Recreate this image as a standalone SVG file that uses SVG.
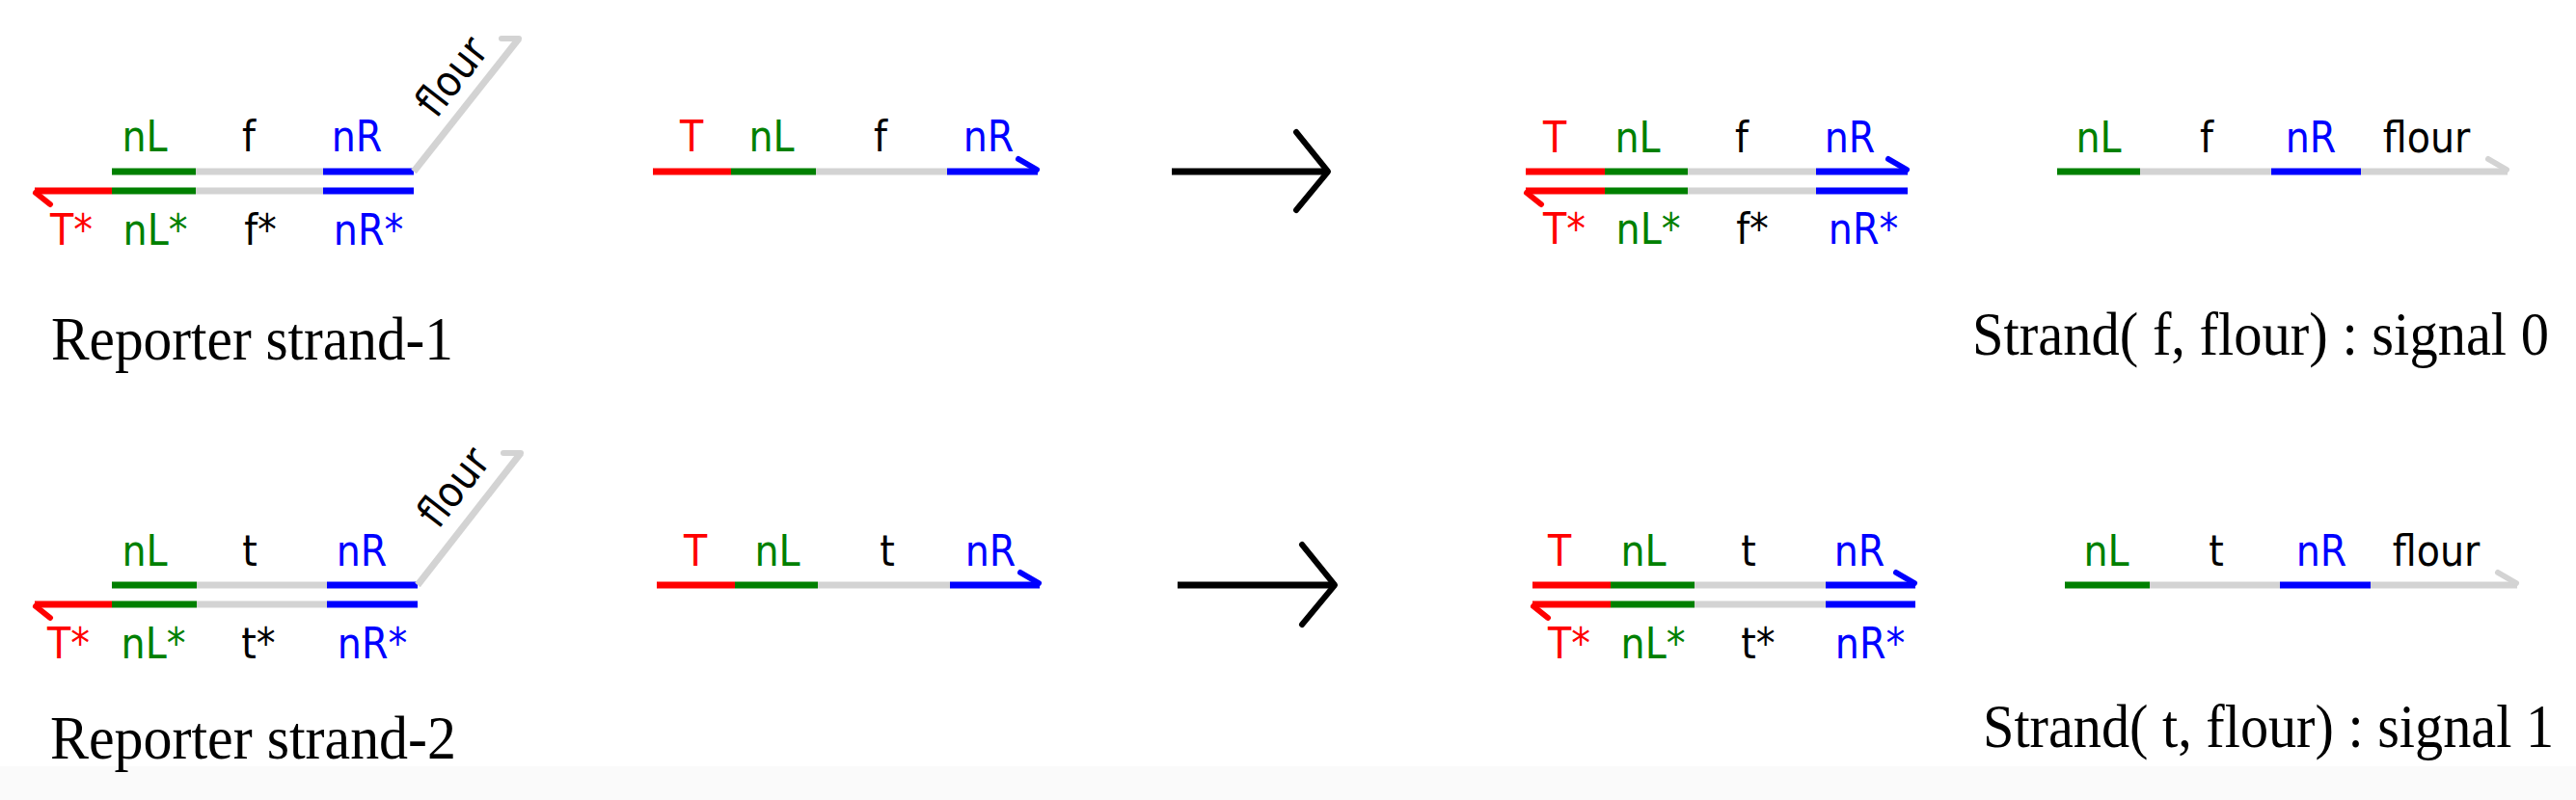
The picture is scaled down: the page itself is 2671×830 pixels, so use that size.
<svg xmlns="http://www.w3.org/2000/svg" width="2671" height="830" viewBox="0 0 2671 830">
<style>
.s{fill:none;stroke-width:7;stroke-linecap:butt}
.h{fill:none;stroke-width:6;stroke-linecap:round;stroke-linejoin:round}
.r{stroke:#ff0000}.g{stroke:#008000}.b{stroke:#0000ff}.y{stroke:#d3d3d3}.k{stroke:#000}
.l{font-family:"DejaVu Sans Condensed","DejaVu Sans",sans-serif;font-size:44px;text-anchor:middle}
.cap{font-family:"Liberation Serif",serif;font-size:64px}
.tr{fill:#ff0000}.tg{fill:#008000}.tb{fill:#0000ff}.tk{fill:#000}
</style>
<rect width="2671" height="830" fill="#fff"/>
<rect y="795" width="2671" height="35" fill="#fafafa"/>

<g id="reporter1">
<line class="s g" x1="116" y1="178" x2="203" y2="178"/><line class="s y" x1="203" y1="178" x2="335" y2="178"/><line class="s b" x1="335" y1="178" x2="429" y2="178"/>
<line class="s y" x1="429" y1="178" x2="538" y2="40"/><polyline class="h y" points="520,40 538,40"/>
<line class="s r" x1="36" y1="198" x2="116" y2="198"/><line class="s g" x1="116" y1="198" x2="203" y2="198"/><line class="s y" x1="203" y1="198" x2="335" y2="198"/><line class="s b" x1="335" y1="198" x2="429" y2="198"/>
<polyline class="h r" points="37,200 52,212"/>
<text class="l tg" x="150" y="157">nL</text><text class="l tk" x="258" y="157">f</text><text class="l tb" x="370" y="157">nR</text>
<text class="l tk" transform="translate(469,80) rotate(-52)" y="14">flour</text>
<text class="l tr" x="74" y="254">T*</text><text class="l tg" x="161" y="254">nL*</text><text class="l tk" x="270" y="254">f*</text><text class="l tb" x="382" y="254">nR*</text>
<text class="cap tk" x="53" y="373" textLength="417" lengthAdjust="spacingAndGlyphs">Reporter strand-1</text>
</g>

<g id="input1">
<line class="s r" x1="677" y1="178" x2="758" y2="178"/><line class="s g" x1="758" y1="178" x2="846" y2="178"/><line class="s y" x1="846" y1="178" x2="982" y2="178"/><line class="s b" x1="982" y1="178" x2="1076" y2="178"/>
<polyline class="h b" points="1075,176 1056,165"/>
<text class="l tr" x="717" y="157">T</text><text class="l tg" x="800" y="157">nL</text><text class="l tk" x="913" y="157">f</text><text class="l tb" x="1025" y="157">nR</text>
</g>

<g id="duplex1">
<line class="s r" x1="1582" y1="178" x2="1664" y2="178"/><line class="s g" x1="1664" y1="178" x2="1750" y2="178"/><line class="s y" x1="1750" y1="178" x2="1883" y2="178"/><line class="s b" x1="1883" y1="178" x2="1978" y2="178"/>
<polyline class="h b" points="1977,176 1958,165"/>
<line class="s r" x1="1582" y1="198" x2="1664" y2="198"/><line class="s g" x1="1664" y1="198" x2="1750" y2="198"/><line class="s y" x1="1750" y1="198" x2="1883" y2="198"/><line class="s b" x1="1883" y1="198" x2="1978" y2="198"/>
<polyline class="h r" points="1583,200 1598,212"/>
<text class="l tr" x="1612" y="158">T</text><text class="l tg" x="1698" y="158">nL</text><text class="l tk" x="1806" y="158">f</text><text class="l tb" x="1918" y="158">nR</text>
<text class="l tr" x="1622" y="253">T*</text><text class="l tg" x="1709" y="253">nL*</text><text class="l tk" x="1817" y="253">f*</text><text class="l tb" x="1932" y="253">nR*</text>
</g>

<g id="signal0">
<line class="s g" x1="2133" y1="178" x2="2219" y2="178"/><line class="s y" x1="2219" y1="178" x2="2355" y2="178"/><line class="s b" x1="2355" y1="178" x2="2448" y2="178"/><line class="s y" x1="2448" y1="178" x2="2600" y2="178"/>
<polyline class="h y" points="2599,176 2580,165"/>
<text class="l tg" x="2176" y="158">nL</text><text class="l tk" x="2288" y="158">f</text><text class="l tb" x="2396" y="158">nR</text><text class="l tk" x="2516" y="158">flour</text>
<text class="cap tk" x="2643" y="368" text-anchor="end" textLength="598" lengthAdjust="spacingAndGlyphs">Strand( f, flour) : signal 0</text>
</g>

<g id="reporter2">
<line class="s g" x1="116" y1="607" x2="204" y2="607"/><line class="s y" x1="204" y1="607" x2="339" y2="607"/><line class="s b" x1="339" y1="607" x2="433" y2="607"/>
<line class="s y" x1="433" y1="607" x2="540" y2="470"/><polyline class="h y" points="522,470 540,470"/>
<line class="s r" x1="36" y1="627" x2="116" y2="627"/><line class="s g" x1="116" y1="627" x2="204" y2="627"/><line class="s y" x1="204" y1="627" x2="339" y2="627"/><line class="s b" x1="339" y1="627" x2="433" y2="627"/>
<polyline class="h r" points="37,629 52,641"/>
<text class="l tg" x="150" y="587">nL</text><text class="l tk" x="259" y="587">t</text><text class="l tb" x="375" y="587">nR</text>
<text class="l tk" transform="translate(471,506) rotate(-52)" y="14">flour</text>
<text class="l tr" x="71" y="683">T*</text><text class="l tg" x="159" y="683">nL*</text><text class="l tk" x="268" y="683">t*</text><text class="l tb" x="386" y="683">nR*</text>
<text class="cap tk" x="52" y="787" textLength="421" lengthAdjust="spacingAndGlyphs">Reporter strand-2</text>
</g>

<g id="input2">
<line class="s r" x1="681" y1="607" x2="762" y2="607"/><line class="s g" x1="762" y1="607" x2="848" y2="607"/><line class="s y" x1="848" y1="607" x2="985" y2="607"/><line class="s b" x1="985" y1="607" x2="1078" y2="607"/>
<polyline class="h b" points="1077,605 1058,594"/>
<text class="l tr" x="721" y="587">T</text><text class="l tg" x="806" y="587">nL</text><text class="l tk" x="920" y="587">t</text><text class="l tb" x="1027" y="587">nR</text>
</g>

<g id="duplex2">
<line class="s r" x1="1589" y1="607" x2="1670" y2="607"/><line class="s g" x1="1670" y1="607" x2="1757" y2="607"/><line class="s y" x1="1757" y1="607" x2="1893" y2="607"/><line class="s b" x1="1893" y1="607" x2="1986" y2="607"/>
<polyline class="h b" points="1985,605 1966,594"/>
<line class="s r" x1="1589" y1="627" x2="1670" y2="627"/><line class="s g" x1="1670" y1="627" x2="1757" y2="627"/><line class="s y" x1="1757" y1="627" x2="1893" y2="627"/><line class="s b" x1="1893" y1="627" x2="1986" y2="627"/>
<polyline class="h r" points="1590,629 1605,641"/>
<text class="l tr" x="1617" y="587">T</text><text class="l tg" x="1704" y="587">nL</text><text class="l tk" x="1813" y="587">t</text><text class="l tb" x="1928" y="587">nR</text>
<text class="l tr" x="1627" y="683">T*</text><text class="l tg" x="1714" y="683">nL*</text><text class="l tk" x="1823" y="683">t*</text><text class="l tb" x="1939" y="683">nR*</text>
</g>

<g id="signal1">
<line class="s g" x1="2141" y1="607" x2="2229" y2="607"/><line class="s y" x1="2229" y1="607" x2="2364" y2="607"/><line class="s b" x1="2364" y1="607" x2="2458" y2="607"/><line class="s y" x1="2458" y1="607" x2="2610" y2="607"/>
<polyline class="h y" points="2609,605 2590,594"/>
<text class="l tg" x="2184" y="587">nL</text><text class="l tk" x="2298" y="587">t</text><text class="l tb" x="2407" y="587">nR</text><text class="l tk" x="2526" y="587">flour</text>
<text class="cap tk" x="2648" y="775" text-anchor="end" textLength="592" lengthAdjust="spacingAndGlyphs">Strand( t, flour) : signal 1</text>
</g>

<g id="connectors">
<line class="s k" x1="1215" y1="178" x2="1375" y2="178"/><polyline class="h k" points="1344,137 1377,178 1344,218"/>
<line class="s k" x1="1221" y1="607" x2="1382" y2="607"/><polyline class="h k" points="1350,565 1384,607 1350,648"/>
</g>
</svg>
